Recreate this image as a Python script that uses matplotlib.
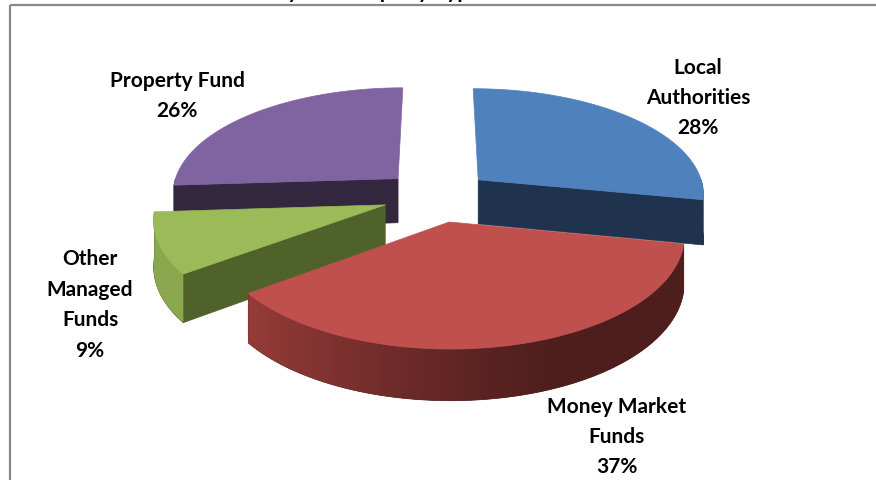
import numpy as np
import matplotlib.pyplot as plt
from matplotlib.patches import Polygon, Rectangle
from matplotlib.colors import to_rgb

# chart data
labels = ["Local\nAuthorities", "Money Market\nFunds", "Other\nManaged\nFunds", "Property Fund"]
values = [28, 37, 9, 26]
title = "Investments by Counterparty Type"

top_colors = ["#4F81BD", "#C0504D", "#9BBB59", "#8064A2"]
side_colors = ["#1F334F", "#4E1E1D", "#4F6229", "#32273F"]
outer_light = ["#1F334F", "#A8433F", "#8AA84E", "#32273F"]
label_pos = [(698, 98), (617, 437), (90, 305), (177, 96)]

# projection of the tilted pie (pixel space)
cx, cy = 437, 197
A, B, H, K = 227, 108, 45, 0.12
explode = 0.24


def proj(u, v, z=0.0):
    s = 1 + K * v
    return cx + A * u * s, cy + (B * v + H * z) * s


fig = plt.figure(figsize=(8.76, 4.81), dpi=100)
ax = fig.add_axes([0, 0, 1, 1])
ax.set_xlim(0, 876)
ax.set_ylim(481, 0)
ax.axis("off")

# frame of the chart area (cut off at right and bottom)
ax.add_patch(Rectangle((10, 6), 900, 520, fill=False, edgecolor="#878787", lw=1.6))

fracs = np.array(values) / sum(values)
edges = np.concatenate([[0], np.cumsum(fracs)]) * 2 * np.pi

slices = []
for i in range(len(values)):
    t0, t1 = edges[i], edges[i + 1]
    tm = (t0 + t1) / 2
    ou, ov = explode * np.sin(tm), -explode * np.cos(tm)
    slices.append((ov, i, t0, t1, ou))

# far slices first
for ov, i, t0, t1, ou in sorted(slices):
    th = np.linspace(t0, t1, 200)
    au, av = ou + np.sin(th), ov - np.cos(th)

    # radial walls
    for tr, vis in [(t0, -np.sin(t0) > 1e-6), (t1, np.sin(t1) > 1e-6)]:
        if not vis:
            continue
        ru, rv = ou + np.sin(tr), ov - np.cos(tr)
        pts = [proj(ou, ov, 0), proj(ru, rv, 0), proj(ru, rv, 1), proj(ou, ov, 1)]
        ax.add_patch(Polygon(pts, closed=True, facecolor=side_colors[i],
                             edgecolor=side_colors[i], lw=0.5))

    # outer curved wall (front half only), shaded left light -> right dark
    lo, hi = max(t0, np.pi / 2), min(t1, 3 * np.pi / 2)
    if hi > lo:
        tt = np.linspace(lo, hi, 120)
        tu, tv = ou + np.sin(tt), ov - np.cos(tt)
        top = [proj(u, v, 0) for u, v in zip(tu, tv)]
        bot = [proj(u, v, 1) for u, v in zip(tu, tv)]
        wall = Polygon(top + bot[::-1], closed=True, facecolor=side_colors[i],
                       edgecolor=side_colors[i], lw=0.5)
        ax.add_patch(wall)
        xs = np.array([p[0] for p in top + bot])
        ys = np.array([p[1] for p in top + bot])
        x0, x1 = xs.min(), xs.max()
        gx = np.linspace(0, 1, 256)
        # light at the left end, darkening to the right
        w = np.clip(1 - (gx * (x1 - x0) + x0 - 180) / 380, 0, 1) ** 1.2
        c_dark, c_light = np.array(to_rgb(side_colors[i])), np.array(to_rgb(outer_light[i]))
        img = c_dark[None, None, :] + (c_light - c_dark)[None, None, :] * w[None, :, None]
        im = ax.imshow(img, extent=(x0, x1, ys.max(), ys.min()), aspect="auto",
                       interpolation="bilinear", zorder=wall.get_zorder())
        im.set_clip_path(wall)

    # top face
    pts = [proj(ou, ov, 0)] + [proj(u, v, 0) for u, v in zip(au, av)]
    ax.add_patch(Polygon(pts, closed=True, facecolor=top_colors[i],
                         edgecolor=top_colors[i], lw=0.5, zorder=2))

ax.set_xlim(0, 876)
ax.set_ylim(481, 0)

# data labels
for i, (lx, ly) in enumerate(label_pos):
    ax.text(lx, ly, f"{labels[i]}\n{values[i]}%", ha="center", va="center",
            fontsize=15, fontweight="bold", family="Lato", linespacing=1.65,
            color="black")

# title, mostly above the visible area (only descenders show)
ax.text(480, -1.5, title, ha="right", va="baseline", fontsize=15,
        fontweight="bold", family="Lato", color="black", clip_on=False)

fig.savefig("out.png", dpi=100)
